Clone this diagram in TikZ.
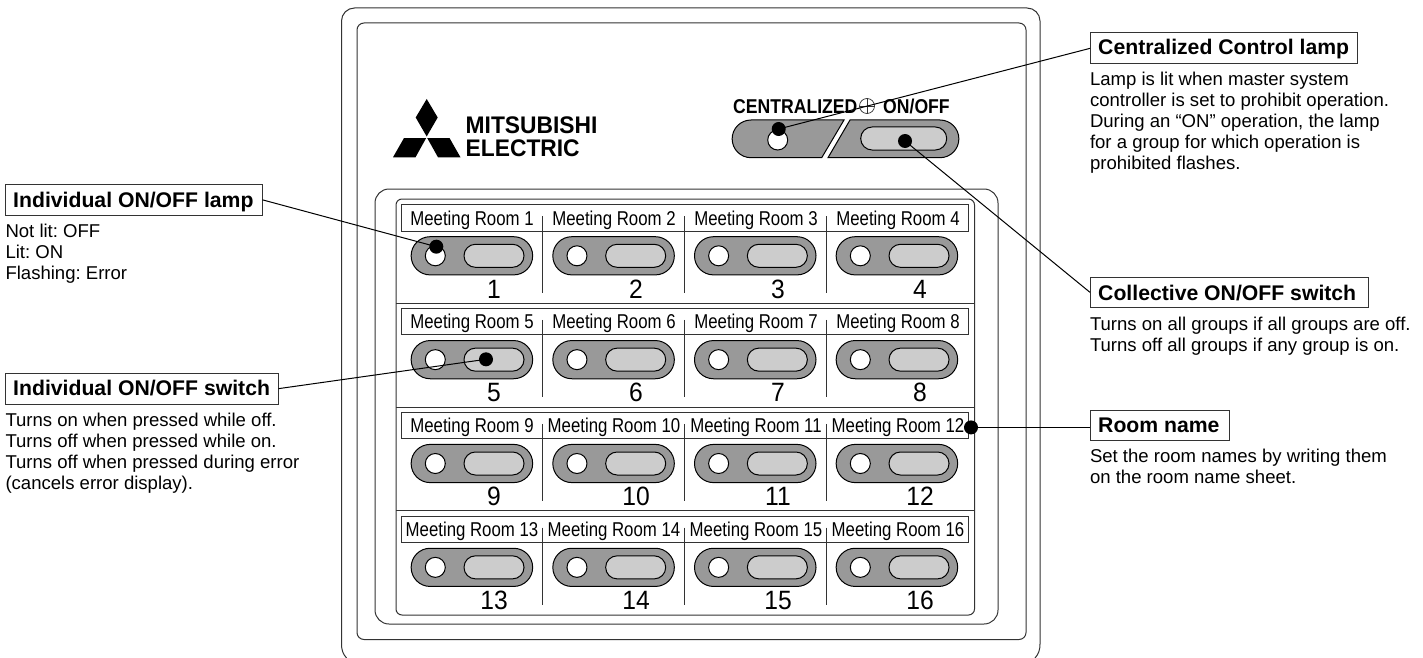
\documentclass[tikz,border=0pt]{standalone}
\usepackage{fontspec}
\setmainfont{Liberation Sans}
\newfontfamily\narrowfont[FakeStretch=0.84]{Liberation Sans}
\newfontfamily\capsfont[FakeStretch=0.88]{Liberation Sans}
\newfontfamily\logofont[FakeStretch=0.95]{Liberation Sans}
\newfontfamily\numfont[FakeStretch=0.93]{Liberation Sans}
\usetikzlibrary{calc}
\definecolor{pillgray}{gray}{0.6}
\definecolor{keygray}{gray}{0.8}
\definecolor{inkline}{gray}{0.2}
\tikzset{
  x=1pt,y=-1pt,
  frame/.style={draw=inkline,line width=1pt},
  pillbody/.style={draw=black,line width=1pt,fill=pillgray,inner sep=0,outer sep=0,minimum width=121.5pt,minimum height=38.2pt,rounded corners=19pt},
  pillkey/.style={draw=black,line width=1pt,fill=keygray,inner sep=0,outer sep=0,minimum width=60pt,minimum height=23pt,rounded corners=11.4pt},
  lamp/.style={circle,draw=black,line width=1pt,fill=white,inner sep=0,outer sep=0,minimum size=20pt},
  marker/.style={circle,fill=black,inner sep=0,outer sep=0,minimum size=14pt},
  leader/.style={draw=black,line width=1pt},
  titlebox/.style={draw=inkline,line width=1pt,fill=white,anchor=north west,inner sep=0,outer sep=0,minimum height=30.7pt},
  titletext/.style={anchor=base west,inner sep=0,font=\fontsize{21.2}{21}\selectfont\bfseries},
  bodytext/.style={anchor=north west,inner sep=0,outer sep=0,align=left,font=\frenchspacing\fontsize{18.55}{21}\selectfont},
  roomlabel/.style={anchor=base,inner sep=0,font=\fontsize{20}{20}\selectfont\narrowfont},
  numlabel/.style={anchor=base,inner sep=0,font=\fontsize{26.5}{26}\selectfont\numfont},
}
\begin{document}
\begin{tikzpicture}
\useasboundingbox (0,0) rectangle (1423,658);
% housing frames
\draw[frame] (346.5,658) .. controls (343,654) and (341.5,650) .. (341.5,644)
  [rounded corners=13] -- (341.5,8) -- (1040,8) [sharp corners] -- (1040,644) .. controls (1040,650) and (1038.5,654) .. (1035,658);
\draw[frame,rounded corners=7] (357,23) rectangle (1026,639.5);
\draw[frame,rounded corners=14] (375,189) rectangle (998,624);
\draw[frame,rounded corners=6] (396,199) rectangle (974.5,615);
% row separators
\foreach \r in {1,2,3}{
  \draw[frame] (396,{199.5+103.8*\r}) -- (974.5,{199.5+103.8*\r});
}
% logo
\fill[black] (426.7,99) -- (415.7,117.5) -- (426.7,136.5) -- (437.7,117.5) -- cycle;
\fill[black] (426.2,138) -- (415.5,157.3) -- (393,157.3) -- (404,138) -- cycle;
\fill[black] (427.2,138) -- (438,157.3) -- (460.5,157.3) -- (449.5,138) -- cycle;
\node[anchor=base west,inner sep=0,font=\fontsize{24}{24}\selectfont\logofont\bfseries] (logoa) at (465.5,134) {MITSUBISHI};
\node[anchor=base west,inner sep=0,font=\fontsize{24}{24}\selectfont\logofont\bfseries] (logob) at (465.5,156.5) {ELECTRIC};
% centralized header
\node[anchor=base west,inner sep=0,font=\fontsize{20}{20}\selectfont\capsfont\bfseries] (centraltext) at (733,113.3) {CENTRALIZED};
\node[anchor=base west,inner sep=0,font=\fontsize{20}{20}\selectfont\capsfont\bfseries] (onofftext) at (883,113.3) {ON/OFF};
\node[circle,draw=inkline,line width=0.7pt,inner sep=0,minimum size=15pt] (crossmark) at (867,106) {};
\draw[draw=inkline,line width=0.7pt] (crossmark.north) -- (crossmark.south) (crossmark.west) -- (crossmark.east);
% collective buttons
\draw[draw=black,line width=1pt,fill=pillgray] (844,120) -- (751,120) arc[start angle=270,end angle=90,radius=18.85] -- (821.7,157.7) -- cycle;
\draw[draw=black,line width=1pt,fill=pillgray] (850,120) -- (940,120) arc[start angle=-90,end angle=90,radius=18.85] -- (828,157.7) -- cycle;
\node[lamp] (clamp) at (777.7,140) {};
\node[pillkey,minimum width=86pt] (ckey) at (903.7,138.5) {};
% room strips
\foreach \r in {0,1,2,3}{
  \draw[frame,line width=0.9pt] (401,{204.5+103.9*\r}) rectangle (968,{231+103.9*\r});
}
% dividers
\foreach \r in {0,1,2,3}{
  \foreach \d in {542.7,684.3,826.7}{
    \draw[draw=inkline,line width=1pt] (\d,{216+103.9*\r}) -- (\d,{293+103.9*\r});
  }
}
% room cells
\foreach \r in {0,1,2,3}{
  \foreach \c in {0,1,2,3}{
    \pgfmathtruncatemacro{\n}{4*\r+\c+1}
    \node[roomlabel] (room\n) at ({472+142*\c},{225+103.9*\r}) {Meeting Room \n};
    \node[pillbody] (pill\n) at ({471.9+141.67*\c},{255.8+103.85*\r}) {};
    \node[lamp] (lamp\n) at ({435.3+141.67*\c},{255.8+103.85*\r}) {};
    \node[pillkey] (key\n) at ({494+141.67*\c},{255.8+103.85*\r}) {};
    \node[numlabel] (num\n) at ({494+142*\c},{298+103.9*\r}) {\n};
  }
}
% callout titles
\node[titlebox,minimum width=257pt] (lampbox) at (5.5,184.5) {};
\node[titletext] (lamptitle) at (13,207) {Individual ON/OFF lamp};
\node[titlebox,minimum width=273pt] (switchbox) at (5.5,373.3) {};
\node[titletext] (switchtitle) at (13,395.7) {Individual ON/OFF switch};
\node[titlebox,minimum width=267pt] (centralbox) at (1090,33) {};
\node[titletext] (centraltitle) at (1098,55) {Centralized Control lamp};
\node[titlebox,minimum width=278pt] (collectivebox) at (1090,277) {};
\node[titletext] (collectivetitle) at (1098,300) {Collective ON/OFF switch};
\node[titlebox,minimum width=139pt] (roombox) at (1090,410) {};
\node[titletext] (roomtitle) at (1098,432.7) {Room name};
% bodies
\node[bodytext] (lampbody) at (5.5,224.5) {Not lit: OFF\\Lit: ON\\Flashing: Error};
\node[bodytext] (switchbody) at (5.5,413.5) {Turns on when pressed while off.\\Turns off when pressed while on.\\Turns off when pressed during error\\(cancels error display).};
\node[bodytext] (centralbody) at (1090,72.5) {Lamp is lit when master system\\controller is set to prohibit operation.\\During an “ON” operation, the lamp\\for a group for which operation is\\prohibited flashes.};
\node[bodytext] (collectivebody) at (1090,317) {Turns on all groups if all groups are off.\\Turns off all groups if any group is on.};
\node[bodytext] (roombody) at (1090,449) {Set the room names by writing them\\on the room name sheet.};
% markers
\node[marker] (dotlamp) at (436.3,246.7) {};
\node[marker] (dotswitch) at (486,359.3) {};
\node[marker] (dotcentral) at (778.7,129) {};
\node[marker] (dotcollective) at (905,141) {};
\node[marker] (dotroom) at (971,427.4) {};
% leaders
\draw[leader] (lampbox.east) -- (dotlamp.center);
\draw[leader] (switchbox.east) -- (dotswitch.center);
\draw[leader] (centralbox.west) -- (dotcentral.center);
\draw[leader] (collectivebox.west) -- (dotcollective.center);
\draw[leader] (dotroom.center) -- (dotroom.center -| roombox.west);
\end{tikzpicture}
\end{document}
